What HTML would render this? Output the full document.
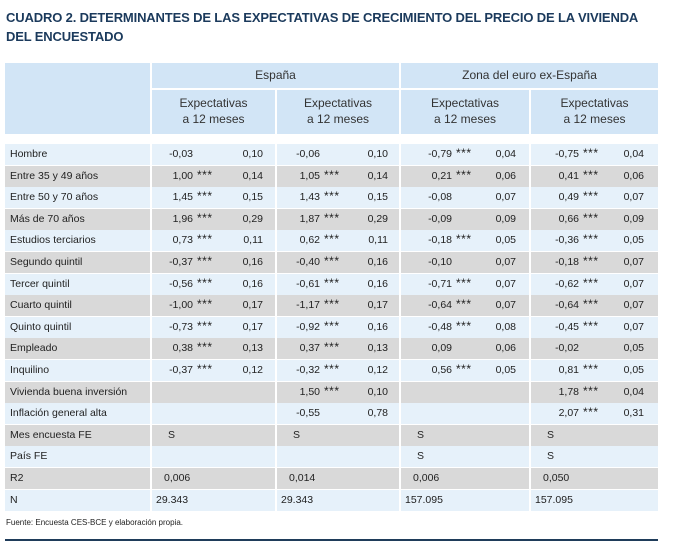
<!DOCTYPE html>
<html><head><meta charset="utf-8"><style>
body{margin:0;width:673px;height:552px;background:#fff;font-family:"Liberation Sans",sans-serif;position:relative;overflow:hidden}
.t{position:absolute;left:6px;top:8px;font-size:13px;font-weight:bold;color:#1b3a5c;line-height:19px;letter-spacing:-0.15px}
.a{position:absolute;white-space:nowrap}
.h{position:absolute;background:#d2e5f6}
.r{position:absolute;left:5px;width:653px;height:21px}
.c{position:absolute;font-size:10.5px;color:#222;white-space:nowrap;line-height:21px}
.hd{position:absolute;font-size:12px;color:#333;text-align:center;line-height:16px}
</style></head><body>
<div class="t">CUADRO 2. DETERMINANTES DE LAS EXPECTATIVAS DE CRECIMIENTO DEL PRECIO DE LA VIVIENDA<br>DEL ENCUESTADO</div>
<div class="h" style="left:5px;top:63px;width:145px;height:71px"></div>
<div class="h" style="left:152px;top:63px;width:247px;height:25px"></div>
<div class="h" style="left:401px;top:63px;width:257px;height:25px"></div>
<div class="h" style="left:152px;top:90px;width:123px;height:44px"></div>
<div class="h" style="left:277px;top:90px;width:122px;height:44px"></div>
<div class="h" style="left:401px;top:90px;width:128px;height:44px"></div>
<div class="h" style="left:531px;top:90px;width:127px;height:44px"></div>
<div class="hd" style="left:152px;width:247px;top:67px">España</div>
<div class="hd" style="left:401px;width:257px;top:67px">Zona del euro ex-España</div>
<div class="hd" style="left:152px;width:123px;top:95px">Expectativas<br>a 12 meses</div>
<div class="hd" style="left:277px;width:122px;top:95px">Expectativas<br>a 12 meses</div>
<div class="hd" style="left:401px;width:128px;top:95px">Expectativas<br>a 12 meses</div>
<div class="hd" style="left:531px;width:127px;top:95px">Expectativas<br>a 12 meses</div>
<div id="rows"></div>
<div class="a" style="left:6px;top:518px;font-size:8px;color:#222">Fuente: Encuesta CES-BCE y elaboración propia.</div>
<div class="a" style="left:5px;top:539px;width:653px;height:2px;background:#1f3c5a"></div>
<script>
var d=[
["Hombre","-0,03","","0,10","-0,06","","0,10","-0,79","***","0,04","-0,75","***","0,04"],
["Entre 35 y 49 años","1,00","***","0,14","1,05","***","0,14","0,21","***","0,06","0,41","***","0,06"],
["Entre 50 y 70 años","1,45","***","0,15","1,43","***","0,15","-0,08","","0,07","0,49","***","0,07"],
["Más de 70 años","1,96","***","0,29","1,87","***","0,29","-0,09","","0,09","0,66","***","0,09"],
["Estudios terciarios","0,73","***","0,11","0,62","***","0,11","-0,18","***","0,05","-0,36","***","0,05"],
["Segundo quintil","-0,37","***","0,16","-0,40","***","0,16","-0,10","","0,07","-0,18","***","0,07"],
["Tercer quintil","-0,56","***","0,16","-0,61","***","0,16","-0,71","***","0,07","-0,62","***","0,07"],
["Cuarto quintil","-1,00","***","0,17","-1,17","***","0,17","-0,64","***","0,07","-0,64","***","0,07"],
["Quinto quintil","-0,73","***","0,17","-0,92","***","0,16","-0,48","***","0,08","-0,45","***","0,07"],
["Empleado","0,38","***","0,13","0,37","***","0,13","0,09","","0,06","-0,02","","0,05"],
["Inquilino","-0,37","***","0,12","-0,32","***","0,12","0,56","***","0,05","0,81","***","0,05"],
["Vivienda buena inversión","","","","1,50","***","0,10","","","","1,78","***","0,04"],
["Inflación general alta","","","","-0,55","","0,78","","","","2,07","***","0,31"]];
var ex=[["Mes encuesta FE","S","S","S","S"],["País FE","","","S","S"],["R2","0,006","0,014","0,006","0,050"],["N","29.343","29.343","157.095","157.095"]];
var cs=[152,277,401,531],coefEnd=[193,320,452,579],seEnd=[263,388,516,644];
var h="";
function row(i,cells){var top=144+i*21.6,bg=i%2?"#d9d9d9":"#e6f1fa";
h+='<div class="r" style="top:'+top+'px;background:'+bg+'"></div>';
[150,275,399,529].forEach(function(x){h+='<div class="a" style="left:'+x+'px;top:'+top+'px;width:2px;height:21px;background:#fff"></div>'});
h+='<div class="c" style="left:10px;top:'+top+'px">'+cells[0]+'</div>';
return top;}
d.forEach(function(r,i){var top=row(i,r);
for(var k=0;k<4;k++){var c=r[1+k*3],s=r[2+k*3],e=r[3+k*3];
h+='<div class="c" style="right:'+(673-coefEnd[k])+'px;top:'+top+'px">'+c+'</div>';
h+='<div class="c" style="left:'+(coefEnd[k]+4)+'px;top:'+(top-1)+'px;font-size:12px;letter-spacing:0.5px">'+s+'</div>';
h+='<div class="c" style="right:'+(673-seEnd[k])+'px;top:'+top+'px">'+e+'</div>';}});
ex.forEach(function(r,j){var i=13+j,top=row(i,r);
for(var k=0;k<4;k++){var v=r[1+k];var l;if(j<2)l=cs[k]+16;else if(j==2)l=cs[k]+12;else l=cs[k]+4;
h+='<div class="c" style="left:'+l+'px;top:'+top+'px">'+v+'</div>';}});
document.getElementById("rows").innerHTML=h;
</script>
</body></html>
